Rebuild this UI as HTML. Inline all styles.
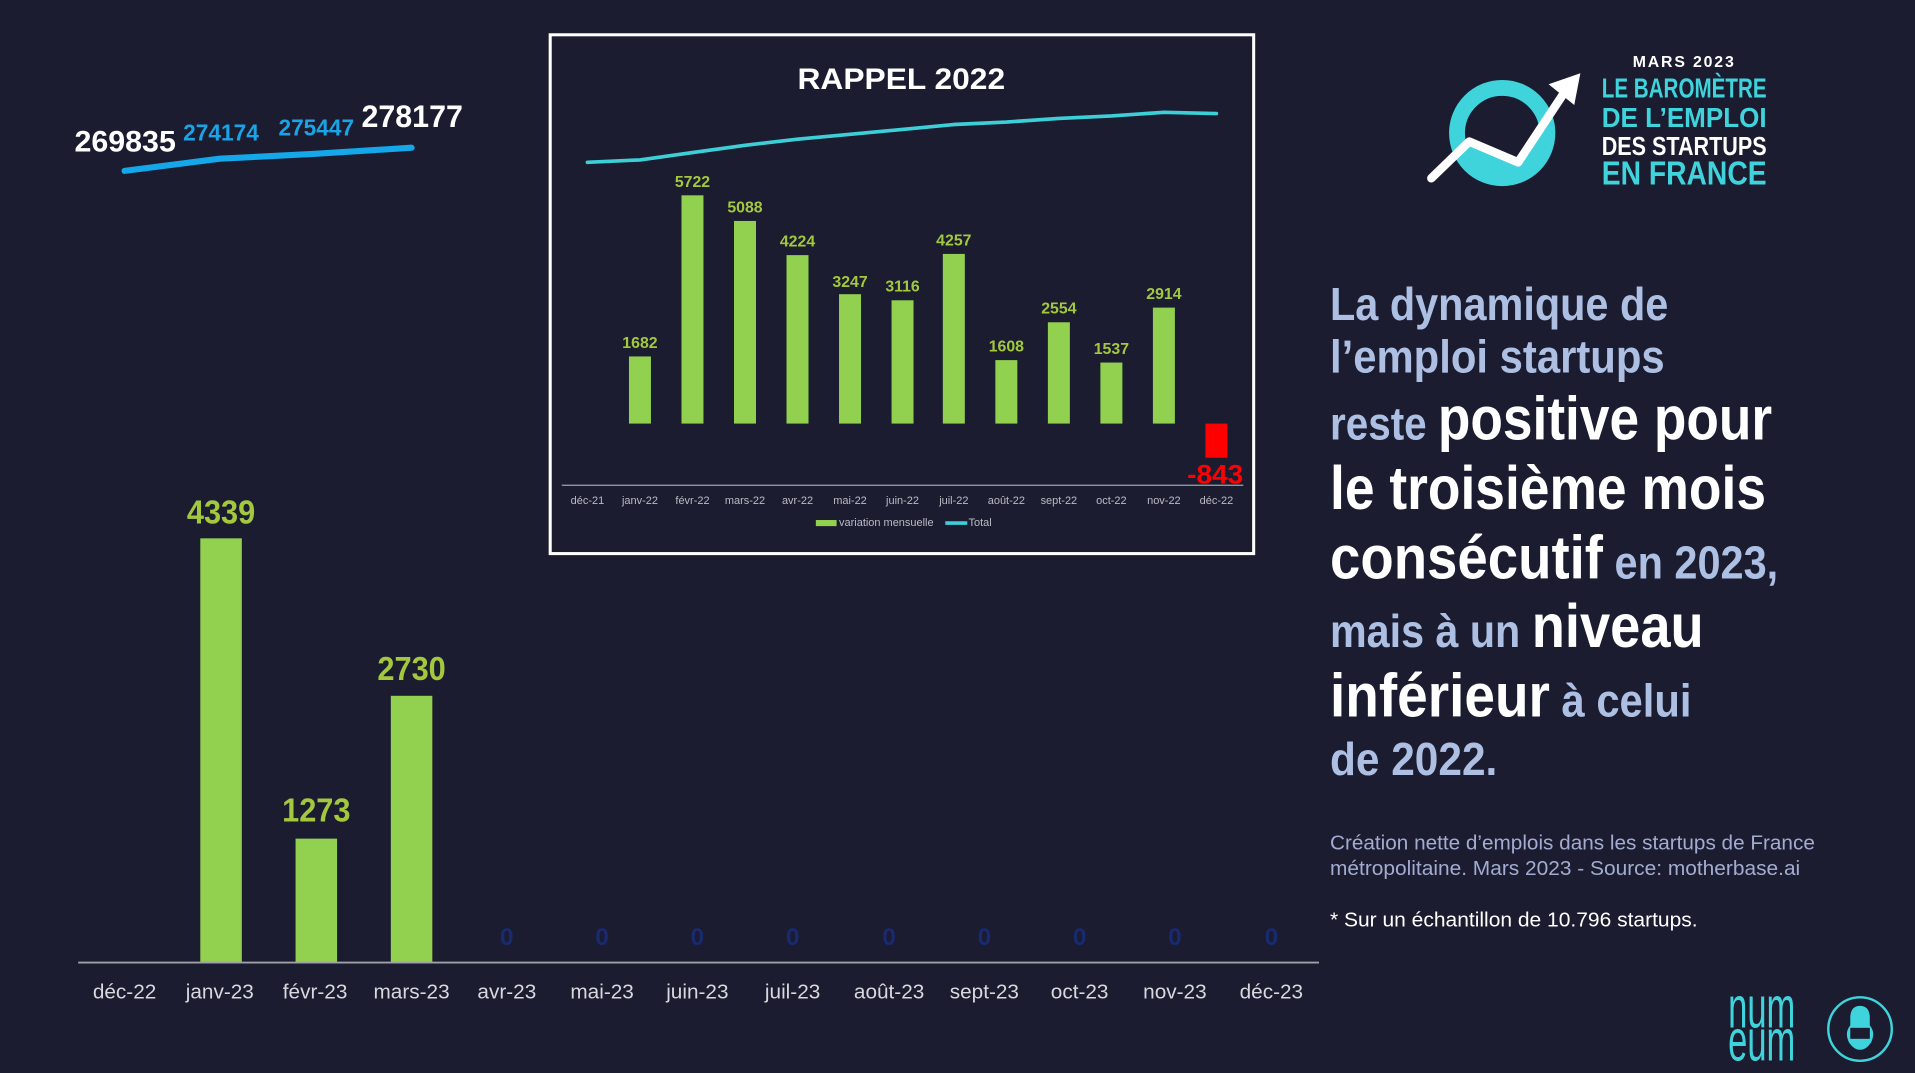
<!DOCTYPE html>
<html><head><meta charset="utf-8"><style>
html,body{margin:0;padding:0;background:#1b1c30;width:1915px;height:1073px;overflow:hidden}
svg{display:block}
text{font-family:"Liberation Sans",sans-serif}
</style></head><body>
<svg width="1915" height="1073" viewBox="0 0 1568 879" preserveAspectRatio="none" xmlns="http://www.w3.org/2000/svg">
<defs><clipPath id="cc"><circle cx="1230" cy="109" r="37"/></clipPath></defs>
<rect width="1568" height="879" fill="#1b1c30"/>

<!-- top-left mini line -->
<polyline points="102,140 180,130 258,126 337,121" fill="none" stroke="#14a8ea" stroke-width="5" stroke-linecap="round" stroke-linejoin="round"/>
<g font-weight="bold">
<text x="61" y="124" font-size="24" fill="#fff" textLength="83" lengthAdjust="spacingAndGlyphs">269835</text>
<text x="150" y="115" font-size="19" fill="#1aa3e6" textLength="62" lengthAdjust="spacingAndGlyphs">274174</text>
<text x="228" y="111" font-size="19" fill="#1aa3e6" textLength="62" lengthAdjust="spacingAndGlyphs">275447</text>
<text x="296" y="104" font-size="26" fill="#fff" textLength="83" lengthAdjust="spacingAndGlyphs">278177</text>
</g>

<!-- main chart -->
<line x1="64" y1="788.5" x2="1080" y2="788.5" stroke="#a0a0a8" stroke-width="1.5"/>
<rect x="164" y="441" width="34" height="347" fill="#92d050"/>
<rect x="242" y="687" width="34" height="101" fill="#92d050"/>
<rect x="320" y="570" width="34" height="218" fill="#92d050"/>
<g font-weight="bold" font-size="27" fill="#a3c83d" text-anchor="middle">
<text x="181" y="429" textLength="56" lengthAdjust="spacingAndGlyphs">4339</text>
<text x="259" y="673" textLength="56" lengthAdjust="spacingAndGlyphs">1273</text>
<text x="337" y="557" textLength="56" lengthAdjust="spacingAndGlyphs">2730</text>
</g>
<g font-weight="bold" font-size="20" fill="#192a70" text-anchor="middle">
<text x="415" y="774">0</text><text x="493" y="774">0</text><text x="571" y="774">0</text><text x="649" y="774">0</text><text x="728" y="774">0</text><text x="806" y="774">0</text><text x="884" y="774">0</text><text x="962" y="774">0</text><text x="1041" y="774">0</text>
</g>
<g font-size="17" fill="#d8d8de" text-anchor="middle">
<text x="102" y="818">déc-22</text><text x="180" y="818">janv-23</text><text x="258" y="818">févr-23</text><text x="337" y="818">mars-23</text><text x="415" y="818">avr-23</text><text x="493" y="818">mai-23</text><text x="571" y="818">juin-23</text><text x="649" y="818">juil-23</text><text x="728" y="818">août-23</text><text x="806" y="818">sept-23</text><text x="884" y="818">oct-23</text><text x="962" y="818">nov-23</text><text x="1041" y="818">déc-23</text>
</g>

<!-- inset -->
<rect x="450.5" y="28.5" width="576" height="425" fill="#1b1c30" stroke="#fff" stroke-width="2.5"/>
<text x="738" y="73" font-size="24" font-weight="bold" fill="#fff" text-anchor="middle" textLength="170" lengthAdjust="spacingAndGlyphs">RAPPEL 2022</text>
<polyline points="481,133 524,131 567,125 610,119 653,114 696,110 739,106 781,102 824,100 867,97 910,95 953,92 996,93" fill="none" stroke="#3ccfd8" stroke-width="3" stroke-linejoin="round" stroke-linecap="round"/>
<g fill="#92d050">
<rect x="515" y="292" width="18" height="55"/>
<rect x="558" y="160" width="18" height="187"/>
<rect x="601" y="181" width="18" height="166"/>
<rect x="644" y="209" width="18" height="138"/>
<rect x="687" y="241" width="18" height="106"/>
<rect x="730" y="246" width="18" height="101"/>
<rect x="772" y="208" width="18" height="139"/>
<rect x="815" y="295" width="18" height="52"/>
<rect x="858" y="264" width="18" height="83"/>
<rect x="901" y="297" width="18" height="50"/>
<rect x="944" y="252" width="18" height="95"/>
</g>
<rect x="987" y="347" width="18" height="28" fill="#ff0000"/>
<g font-weight="bold" font-size="13" fill="#a3c83d" text-anchor="middle">
<text x="524" y="285">1682</text><text x="567" y="153">5722</text><text x="610" y="174">5088</text><text x="653" y="202">4224</text><text x="696" y="235">3247</text><text x="739" y="239">3116</text><text x="781" y="201">4257</text><text x="824" y="288">1608</text><text x="867" y="257">2554</text><text x="910" y="290">1537</text><text x="953" y="245">2914</text>
</g>
<text x="995" y="396" font-weight="bold" font-size="22" fill="#ff0000" text-anchor="middle" textLength="46" lengthAdjust="spacingAndGlyphs">-843</text>
<line x1="460" y1="397.5" x2="1018" y2="397.5" stroke="#a0a0a8" stroke-width="1"/>
<g font-size="9" fill="#bbbbc4" text-anchor="middle">
<text x="481" y="413">déc-21</text><text x="524" y="413">janv-22</text><text x="567" y="413">févr-22</text><text x="610" y="413">mars-22</text><text x="653" y="413">avr-22</text><text x="696" y="413">mai-22</text><text x="739" y="413">juin-22</text><text x="781" y="413">juil-22</text><text x="824" y="413">août-22</text><text x="867" y="413">sept-22</text><text x="910" y="413">oct-22</text><text x="953" y="413">nov-22</text><text x="996" y="413">déc-22</text>
</g>
<rect x="668" y="426" width="17" height="5" fill="#92d050"/>
<text x="687" y="431" font-size="9" fill="#bbbbc4">variation mensuelle</text>
<line x1="774" y1="428.5" x2="792" y2="428.5" stroke="#3ccfd8" stroke-width="3"/>
<text x="793" y="431" font-size="9" fill="#bbbbc4">Total</text>

<!-- logo -->
<circle cx="1230" cy="109" r="37" fill="none" stroke="#3fd3dc" stroke-width="13"/>
<path d="M1190,112 L1203,116 L1243,133 L1270,95 L1280,150 L1180,150 Z" fill="#3fd3dc" clip-path="url(#cc)"/>
<polyline points="1172,146 1203,116 1243,133 1282,74" fill="none" stroke="#fff" stroke-width="7" stroke-linejoin="round" stroke-linecap="round"/>
<polygon points="1268,69 1294,60 1289,86" fill="#fff"/>
<g font-weight="bold" text-anchor="middle">
<text x="1379" y="55" font-size="13" fill="#fff" letter-spacing="1.5">MARS 2023</text>
<text x="1379" y="80" font-size="23" fill="#3fd3dc" textLength="135" lengthAdjust="spacingAndGlyphs">LE BAROMÈTRE</text>
<text x="1379" y="104" font-size="23" fill="#3fd3dc" textLength="135" lengthAdjust="spacingAndGlyphs">DE L’EMPLOI</text>
<text x="1379" y="127" font-size="21" fill="#fff" textLength="135" lengthAdjust="spacingAndGlyphs">DES STARTUPS</text>
<text x="1379" y="151" font-size="27" fill="#3fd3dc" textLength="135" lengthAdjust="spacingAndGlyphs">EN FRANCE</text>
</g>

<!-- right text -->
<g font-weight="bold">
<text x="1089" y="262" font-size="38" fill="#adc0e3" textLength="277" lengthAdjust="spacingAndGlyphs">La dynamique de</text>
<text x="1089" y="305" font-size="38" fill="#adc0e3" textLength="274" lengthAdjust="spacingAndGlyphs">l’emploi startups</text>
<text x="1089" y="360" textLength="362" lengthAdjust="spacingAndGlyphs"><tspan font-size="38" fill="#adc0e3">reste </tspan><tspan font-size="50" fill="#fff">positive pour</tspan></text>
<text x="1089" y="417" font-size="50" fill="#fff" textLength="357" lengthAdjust="spacingAndGlyphs">le troisième mois</text>
<text x="1089" y="474" textLength="367" lengthAdjust="spacingAndGlyphs"><tspan font-size="50" fill="#fff">consécutif</tspan><tspan font-size="38" fill="#adc0e3"> en 2023,</tspan></text>
<text x="1089" y="530" textLength="306" lengthAdjust="spacingAndGlyphs"><tspan font-size="38" fill="#adc0e3">mais à un </tspan><tspan font-size="50" fill="#fff">niveau</tspan></text>
<text x="1089" y="587" textLength="296" lengthAdjust="spacingAndGlyphs"><tspan font-size="50" fill="#fff">inférieur</tspan><tspan font-size="38" fill="#adc0e3"> à celui</tspan></text>
<text x="1089" y="635" font-size="38" fill="#adc0e3" textLength="137" lengthAdjust="spacingAndGlyphs">de 2022.</text>
</g>
<text x="1089" y="696" font-size="17" fill="#a3acd0" textLength="397" lengthAdjust="spacingAndGlyphs">Création nette d’emplois dans les startups de France</text>
<text x="1089" y="717" font-size="17" fill="#a3acd0" textLength="385" lengthAdjust="spacingAndGlyphs">métropolitaine. Mars 2023 - Source: motherbase.ai</text>
<text x="1089" y="759" font-size="17" fill="#fff" textLength="301" lengthAdjust="spacingAndGlyphs">* Sur un échantillon de 10.796 startups.</text>

<!-- numeum -->
<g transform="translate(1415,0) scale(1,1.6)">
<text x="0" y="526" font-size="30" fill="#3fd3dc" textLength="55" lengthAdjust="spacingAndGlyphs">num</text>
<text x="0" y="543" font-size="30" fill="#3fd3dc" textLength="55" lengthAdjust="spacingAndGlyphs">eum</text>
</g>
<circle cx="1523" cy="843" r="26" fill="none" stroke="#3fd3dc" stroke-width="2"/>
<path d="M1515,834 Q1515,824 1523,824 Q1531,824 1531,834 L1531,840 Q1536,846 1532,854 Q1528,860 1523,860 Q1518,860 1514,854 Q1510,846 1515,840 Z" fill="#3fd3dc"/>
<rect x="1515" y="842" width="16" height="9" fill="#1b1c30"/>
</svg>
</body></html>
